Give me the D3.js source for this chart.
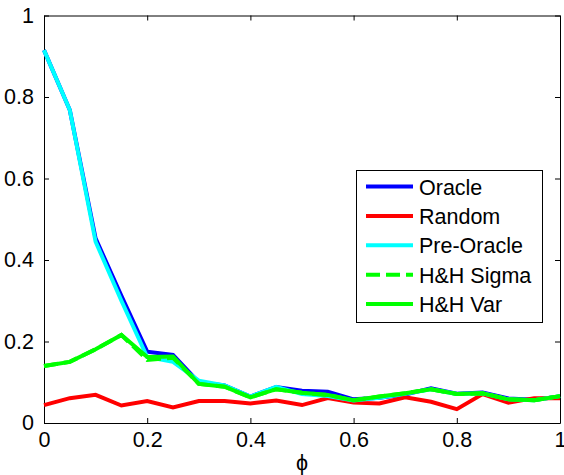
<!DOCTYPE html>
<html>
<head>
<meta charset="utf-8">
<script src="https://cdn.jsdelivr.net/npm/d3@7"></script>
<style>
  body { margin: 0; background: #fff; }
  svg { display: block; font-family: "Liberation Sans", Arial, sans-serif; }
  .axis path, .axis line { stroke: #000; }
  .axis text { font-size: 21.5px; fill: #000; }
</style>
</head>
<body>
<div id="chart"></div>
<script>
// phi values along x
const phi = [0, 0.05, 0.1, 0.15, 0.2, 0.25, 0.3, 0.35, 0.4, 0.45, 0.5,
             0.55, 0.6, 0.65, 0.7, 0.75, 0.8, 0.85, 0.9, 0.95, 1];

const oracle    = [0.915, 0.768, 0.453, 0.312, 0.175, 0.167, 0.100, 0.092, 0.065, 0.088, 0.079,
                   0.077, 0.058, 0.062, 0.070, 0.085, 0.072, 0.075, 0.060, 0.057, 0.065];
const random    = [0.044, 0.061, 0.069, 0.043, 0.054, 0.038, 0.054, 0.054, 0.048, 0.055, 0.044,
                   0.061, 0.050, 0.048, 0.063, 0.052, 0.034, 0.071, 0.050, 0.061, 0.061];
const preOracle = [0.915, 0.768, 0.445, 0.300, 0.162, 0.150, 0.104, 0.092, 0.065, 0.089, 0.071,
                   0.066, 0.055, 0.062, 0.072, 0.083, 0.071, 0.073, 0.058, 0.056, 0.066];
const hhSigma   = [0.140, 0.150, 0.181, 0.216, 0.155, 0.160, 0.096, 0.089, 0.063, 0.083, 0.074,
                   0.069, 0.056, 0.065, 0.073, 0.083, 0.071, 0.073, 0.058, 0.056, 0.066];
const hhVar     = [0.140, 0.150, 0.181, 0.216, 0.162, 0.163, 0.096, 0.089, 0.063, 0.083, 0.074,
                   0.069, 0.056, 0.065, 0.073, 0.083, 0.071, 0.073, 0.058, 0.056, 0.066];

const seriesNames = ["Oracle", "Random", "Pre-Oracle", "H&H Sigma", "H&H Var"];
const seriesValues = [oracle, random, preOracle, hhSigma, hhVar];
const seriesColors = ["#0000ff", "#ff0000", "#00ffff", "#00ff00", "#00ff00"];
const seriesDash = [null, null, null, "14,6", null];

const xTicks = [0, 0.2, 0.4, 0.6, 0.8, 1];
const yTicks = [0, 0.2, 0.4, 0.6, 0.8, 1];

const W = 564, H = 475;
const m = { left: 44, right: 4, top: 15.5, bottom: 52 };

const svg = d3.select("#chart").append("svg")
  .attr("width", W)
  .attr("height", H);

const x = d3.scaleLinear().domain([0, 1]).range([m.left, W - m.right]);
const y = d3.scaleLinear().domain([0, 1]).range([H - m.bottom, m.top]);

const fmt = d => d === 0 || d === 1 ? String(d) : d3.format(".1f")(d);

// axes: ticks point inward, box on all four sides
svg.append("g").attr("class", "axis")
  .attr("transform", `translate(0,${y(0)})`)
  .call(d3.axisBottom(x).tickValues(xTicks).tickFormat(fmt).tickSizeInner(-5).tickSizeOuter(0).tickPadding(9));

svg.append("g").attr("class", "axis")
  .attr("transform", `translate(0,${y(1)})`)
  .call(d3.axisTop(x).tickValues(xTicks).tickFormat("").tickSizeInner(-5).tickSizeOuter(0));

svg.append("g").attr("class", "axis")
  .attr("transform", `translate(${x(0)},0)`)
  .call(d3.axisLeft(y).tickValues(yTicks).tickFormat(fmt).tickSizeInner(-5).tickSizeOuter(0).tickPadding(10));

svg.append("g").attr("class", "axis")
  .attr("transform", `translate(${x(1)},0)`)
  .call(d3.axisRight(y).tickValues(yTicks).tickFormat("").tickSizeInner(-5).tickSizeOuter(0));

// x label
svg.append("text")
  .attr("x", (x(0) + x(1)) / 2)
  .attr("y", 470)
  .attr("text-anchor", "middle")
  .style("font-size", "21.5px")
  .text("ϕ");

// lines
const line = d3.line()
  .x((d, i) => x(phi[i]))
  .y(d => y(d));

seriesValues.forEach((vals, k) => {
  svg.append("path")
    .datum(vals)
    .attr("d", line)
    .attr("fill", "none")
    .attr("stroke", seriesColors[k])
    .attr("stroke-width", 4)
    .attr("stroke-dasharray", seriesDash[k])
    .attr("stroke-linejoin", "miter");
});

// legend
const lg = svg.append("g");
lg.append("rect")
  .attr("x", 356.5).attr("y", 170.5)
  .attr("width", 186).attr("height", 152)
  .attr("fill", "#fff").attr("stroke", "#000");

seriesNames.forEach((name, k) => {
  const cy = 186.5 + k * 29.4;
  lg.append("line")
    .attr("x1", 366).attr("x2", 413)
    .attr("y1", cy).attr("y2", cy)
    .attr("stroke", seriesColors[k])
    .attr("stroke-width", 4)
    .attr("stroke-dasharray", seriesDash[k]);
  lg.append("text")
    .attr("x", 419).attr("y", cy + 8)
    .style("font-size", "21.5px")
    .text(name);
});
</script>
</body>
</html>
